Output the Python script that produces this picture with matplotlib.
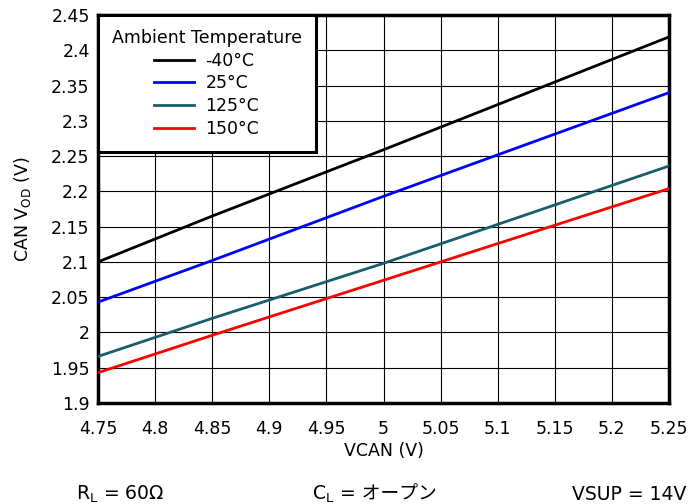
import numpy as np
import matplotlib
matplotlib.use("Agg")
import matplotlib.pyplot as plt

plt.rcParams['font.family'] = ['DejaVu Sans', 'Noto Sans CJK JP']

# data
vcan = [4.75, 4.85, 5.0, 5.25]
vod_m40 = [2.100, 2.165, 2.259, 2.419]
vod_25 = [2.043, 2.102, 2.193, 2.340]
vod_125 = [1.966, 2.020, 2.098, 2.236]
vod_150 = [1.943, 1.996, 2.074, 2.204]

series_labels = ['-40°C', '25°C', '125°C', '150°C']
series_colors = ['black', '#0000ff', '#175d6b', '#ff0000']

xticks = [4.75, 4.8, 4.85, 4.9, 4.95, 5.0, 5.05, 5.1, 5.15, 5.2, 5.25]
xtick_labels = ['4.75', '4.8', '4.85', '4.9', '4.95', '5', '5.05', '5.1', '5.15', '5.2', '5.25']
yticks = [1.9, 1.95, 2.0, 2.05, 2.1, 2.15, 2.2, 2.25, 2.3, 2.35, 2.4, 2.45]
ytick_labels = ['1.9', '1.95', '2', '2.05', '2.1', '2.15', '2.2', '2.25', '2.3', '2.35', '2.4', '2.45']

FS = 12.5

fig = plt.figure(figsize=(6.93, 5.04), dpi=100)
ax = fig.add_axes([0.1414, 0.2004, 0.824, 0.7698])

for ys, lab, col in zip([vod_m40, vod_25, vod_125, vod_150], series_labels, series_colors):
    ax.plot(vcan, ys, color=col, linewidth=2, label=lab, zorder=3)

ax.set_xlim(4.75, 5.25)
ax.set_ylim(1.9, 2.45)
ax.set_xticks(xticks)
ax.set_xticklabels(xtick_labels)
ax.set_yticks(yticks)
ax.set_yticklabels(ytick_labels)
ax.tick_params(axis='both', length=0, labelsize=FS)
ax.tick_params(axis='x', pad=12)
ax.tick_params(axis='y', pad=6)
ax.grid(True, color='black', linewidth=0.8)
for s in ax.spines.values():
    s.set_linewidth(2.5)

ax.set_xlabel('VCAN (V)', fontsize=FS, labelpad=3)
ax.set_ylabel('CAN V$_{\\mathregular{OD}}$ (V)', fontsize=FS, labelpad=13)

leg = ax.legend(title='Ambient Temperature', loc='upper left', fontsize=FS,
                title_fontsize=FS, fancybox=False, framealpha=1,
                edgecolor='black', borderaxespad=0, handlelength=2.3,
                labelspacing=0.27, borderpad=0.8, handletextpad=0.65)
leg.get_frame().set_linewidth(2.2)
leg.set_zorder(5)

# notes under the chart
NFS = 13.5
ynote = 1 - 500 / 504
fig.text(76 / 693, ynote, 'R$_{\\mathregular{L}}$ = 60Ω', fontsize=NFS, va='baseline')
c_txt = fig.text(312 / 693, ynote, 'C$_{\\mathregular{L}}$', fontsize=NFS, va='baseline')
fig.text(572 / 693, ynote, 'VSUP = 14V', fontsize=NFS, va='baseline')

fig.canvas.draw()
bb = c_txt.get_window_extent()
fig.text(bb.x1 / fig.bbox.width, ynote, ' = オープン', fontsize=NFS, va='baseline',
         family=['DejaVu Sans', 'Noto Sans CJK JP'])

fig.savefig('out.png', dpi=100)
